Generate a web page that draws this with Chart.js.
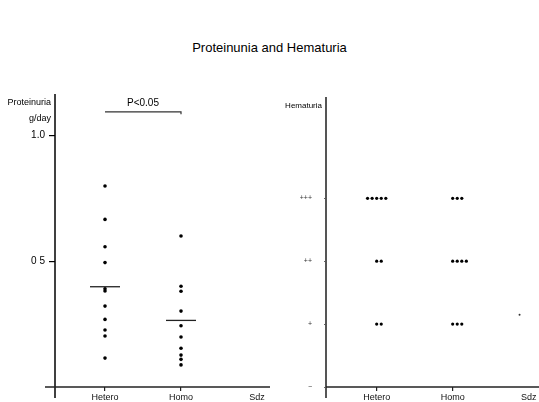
<!DOCTYPE html>
<html>
<head>
<meta charset="utf-8">
<script src="https://cdn.jsdelivr.net/npm/chart.js@4"></script>
<style>
  body { margin: 0; background: #fff; }
  #title { position: absolute; left: 0; top: 40px; width: 539px; text-align: center;
           font: 13px/15px "Liberation Sans", Arial, sans-serif; color: #000; }
  #left { position: absolute; left: 0; top: 0; }
  #right { position: absolute; left: 270px; top: 0; }
</style>
</head>
<body>
<div id="title">Proteinunia and Hematuria</div>
<canvas id="left" width="270" height="402"></canvas>
<canvas id="right" width="269" height="402"></canvas>
<script>
// groups on the x axis (1, 2, 3)
const groups = ['Hetero', 'Homo', 'Sdz'];

// proteinuria, g/day
const heteroProtein = [0.80, 0.667, 0.558, 0.495, 0.391, 0.382, 0.322, 0.269, 0.227, 0.203, 0.115];
const homoProtein = [0.601, 0.401, 0.381, 0.302, 0.244, 0.199, 0.154, 0.127, 0.110, 0.088];
const proteinMeans = [0.399, 0.265];
const proteinTicks = [0.5, 1.0];
const proteinTickLabels = ['0 5', '1.0'];
const pValueText = 'P<0.05';

// hematuria: number of patients per grade (−, +, ++, +++)
const hematuriaGrades = ['\u2212', '+', '++', '+++'];
const heteroHematuria = [0, 2, 2, 5];
const homoHematuria = [0, 3, 4, 3];
const sdzHematuria = [1.15];

const FONT = '"Liberation Sans", Arial, sans-serif';
const INK = '#000';
const dotStep = 0.06;

// no extra room for half labels, so the axes land where they should
function noPad(s) {
  s.paddingLeft = 0; s.paddingRight = 0; s.paddingTop = 0; s.paddingBottom = 0;
}

function groupAxis(min, max) {
  return {
    type: 'linear', min: min, max: max,
    afterBuildTicks: s => { s.ticks = groups.map((g, i) => ({ value: i + 1 })); },
    afterFit: s => { s.height = 15; noPad(s); },
    ticks: {
      callback: (v, i) => groups[i],
      font: { family: FONT, size: 9 }, color: '#111', padding: 1,
      autoSkip: false, maxRotation: 0
    },
    grid: {
      drawOnChartArea: false, tickLength: 4, lineWidth: 1.2,
      color: c => c.index === 2 ? 'rgba(0,0,0,0)' : '#222'
    },
    border: { display: false }
  };
}

// axis lines and labels that sit outside the chart area
function framePlugin(title, titleSize, yColor, yWidth) {
  return {
    id: 'frame',
    afterDraw(chart) {
      const { ctx, chartArea: a, scales } = chart;
      ctx.save();
      ctx.lineWidth = yWidth;
      ctx.strokeStyle = yColor;
      ctx.beginPath();
      ctx.moveTo(a.left, a.top);
      ctx.lineTo(a.left, 398);
      ctx.stroke();
      ctx.lineWidth = 1.5;
      ctx.strokeStyle = '#222';
      ctx.beginPath();
      ctx.moveTo(title.length > 1 ? a.left - 10 : a.left, a.bottom);
      ctx.lineTo(chart.width, a.bottom);
      ctx.stroke();
      ctx.fillStyle = INK;
      ctx.font = titleSize + 'px ' + FONT;
      ctx.textAlign = 'right';
      ctx.textBaseline = 'middle';
      title.forEach((t, i) => ctx.fillText(t, a.left - 4, a.top + 9 + i * 16));
      if (chart.canvas.id === 'left') {
        const x = scales.x, y = scales.y;
        ctx.font = '10px ' + FONT;
        ctx.textAlign = 'center';
        ctx.fillText(pValueText, (x.getPixelForValue(1) + x.getPixelForValue(2)) / 2, y.getPixelForValue(1.13));
      }
      ctx.restore();
    }
  };
}

const base = {
  responsive: false,
  animation: false,
  plugins: { legend: { display: false }, tooltip: { enabled: false } }
};

function toPoints(values, group) {
  return values.map(v => ({ x: group, y: v }));
}

new Chart(document.getElementById('left'), {
  type: 'scatter',
  data: {
    datasets: [
      { data: toPoints(heteroProtein, 1).concat(toPoints(homoProtein, 2)),
        pointRadius: 1.8, backgroundColor: INK, borderWidth: 0 },
      { data: proteinMeans.map((m, i) => ({ x: i + 1, y: m })),
        pointStyle: 'line', pointRadius: 15, borderColor: '#222', borderWidth: 1.3 },
      { type: 'line', data: [{ x: 1, y: 1.095 }, { x: 2, y: 1.095 }, { x: 2, y: 1.085 }],
        borderColor: '#333', borderWidth: 1.2, pointRadius: 0, fill: false }
    ]
  },
  options: Object.assign({}, base, {
    layout: { autoPadding: false, padding: { top: 94, left: 0, right: 0, bottom: 0 } },
    scales: {
      x: groupAxis(0.342, 3.171),
      y: {
        min: 0, max: 1.166,
        afterFit: s => { s.width = 55; noPad(s); },
        afterBuildTicks: s => { s.ticks = proteinTicks.map(v => ({ value: v })); },
        ticks: { callback: (v, i) => proteinTickLabels[i], font: { family: FONT, size: 10 }, color: INK, padding: 4 },
        grid: { drawOnChartArea: false, tickLength: 6, color: INK, lineWidth: 1.2 },
        border: { display: false }
      }
    }
  }),
  plugins: [framePlugin(['Proteinuria', 'g/day'], 9, INK, 1.5)]
});

function gradeDots(counts, center) {
  const pts = [];
  counts.forEach((n, grade) => {
    const start = n >= 5 ? -(n - 1) / 2 : 0;
    for (let k = 0; k < n; k++) pts.push({ x: center + (start + k) * dotStep, y: grade });
  });
  return pts;
}

new Chart(document.getElementById('right'), {
  type: 'scatter',
  data: {
    datasets: [
      { data: gradeDots(heteroHematuria, 1).concat(gradeDots(homoHematuria, 2)),
        pointRadius: 1.6, backgroundColor: INK, borderWidth: 0 },
      { data: sdzHematuria.map(v => ({ x: 3 - 0.12, y: v })),
        pointRadius: 1, backgroundColor: '#333', borderWidth: 0 }
    ]
  },
  options: Object.assign({}, base, {
    layout: { autoPadding: false, padding: { top: 97, left: 0, right: 0, bottom: 0 } },
    scales: {
      x: groupAxis(0.333, 3.136),
      y: {
        min: 0, max: 4.61,
        afterFit: s => { s.width = 56; noPad(s); },
        afterBuildTicks: s => { s.ticks = hematuriaGrades.map((g, i) => ({ value: i })); },
        ticks: { callback: (v, i) => hematuriaGrades[i], font: { family: FONT, size: 7 }, color: '#333', padding: 12 },
        grid: { drawOnChartArea: false, tickLength: 2, color: '#666', lineWidth: 1 },
        border: { display: false }
      }
    }
  }),
  plugins: [framePlugin(['Hematuria'], 8, '#555', 2)]
});
</script>
</body>
</html>
